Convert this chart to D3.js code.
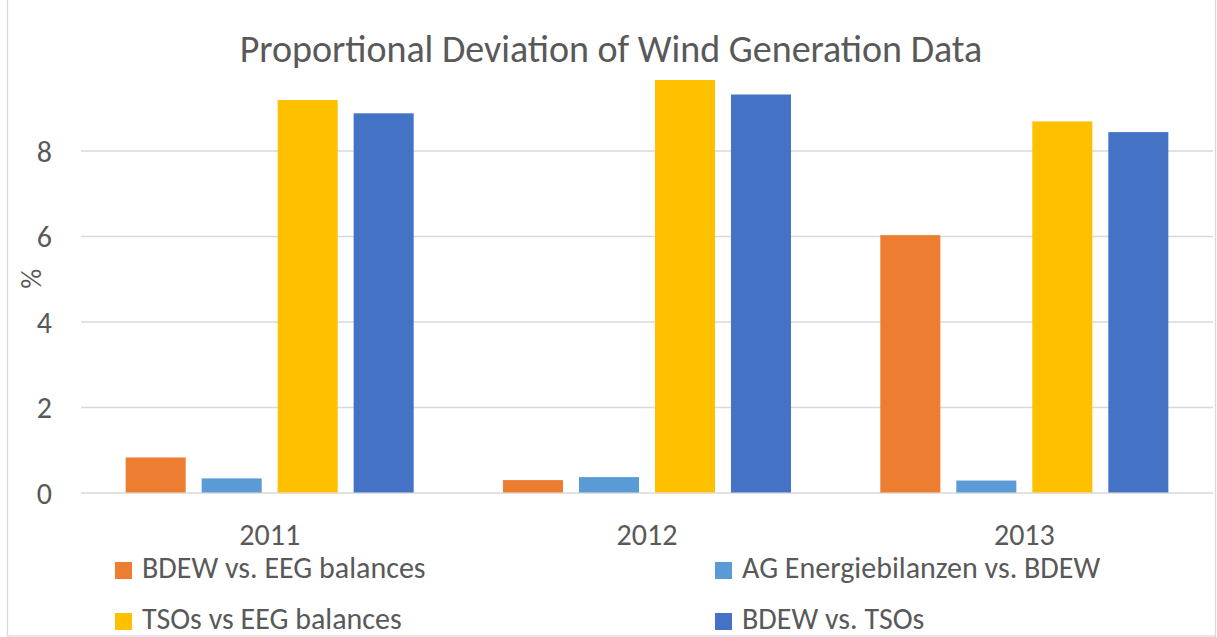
<!DOCTYPE html>
<html>
<head>
<meta charset="utf-8">
<script src="https://cdn.jsdelivr.net/npm/d3@7"></script>
<style>
  html, body { margin: 0; padding: 0; background: #fff; }
  svg { display: block; }
  text { font-family: Calibri, Carlito, Lato, "Open Sans", sans-serif; fill: #595959; }
  .grid line { stroke: #d9d9d9; stroke-width: 1.3; }
  .grid .domain { display: none; }
  .axis .domain, .axis line { display: none; }
</style>
</head>
<body>
<svg id="chart" width="1217" height="637"></svg>
<script>
// ── Data ──────────────────────────────────────────────────────────────────────
const years  = ["2011", "2012", "2013"];
const series = ["BDEW vs. EEG balances", "AG Energiebilanzen vs. BDEW",
                "TSOs vs EEG balances", "BDEW vs. TSOs"];
const colors = ["#ed7d31", "#5b9bd5", "#ffc000", "#4472c4"];
// one array per series, values per year (%)
const bdewVsEeg   = [0.82, 0.29, 6.02];
const agebVsBdew  = [0.33, 0.36, 0.28];
const tsosVsEeg   = [9.18, 9.65, 8.68];
const bdewVsTsos  = [8.87, 9.31, 8.43];
const yTicks = [0, 2, 4, 6, 8];

const values = [bdewVsEeg, agebVsBdew, tsosVsEeg, bdewVsTsos];
const rows = years.map((yr, i) => ({
  year: yr,
  bars: series.map((s, j) => ({ s, j, v: values[j][i] }))
}));

// ── Layout ────────────────────────────────────────────────────────────────────
const svg = d3.select("#chart");
const W = 1217, H = 637;
const margin = { top: 65, right: 4, bottom: 144.5, left: 81 };
const w = W - margin.left - margin.right;
const h = H - margin.top - margin.bottom;

// chart frame
svg.append("rect")
  .attr("x", 7.5).attr("y", -2)
  .attr("width", 1208).attr("height", 638)
  .attr("fill", "none").attr("stroke", "#d9d9d9").attr("stroke-width", 1.3);

const g = svg.append("g").attr("transform", `translate(${margin.left},${margin.top})`);

const x0 = d3.scaleBand().domain(years).range([0, w]).padding(0);
const x1 = d3.scaleBand().domain(series).range([0, x0.bandwidth()])
  .paddingInner(0.21).paddingOuter(0.5875);
const y = d3.scaleLinear().domain([0, 10]).range([h, 0]);

g.append("g").attr("class", "grid")
  .call(d3.axisLeft(y).tickValues(yTicks).tickSize(-w).tickFormat(""));

g.append("g").attr("class", "axis")
  .call(d3.axisLeft(y).tickValues(yTicks).tickSize(0).tickPadding(29))
  .selectAll("text").style("font-size", "30px").attr("dy", "0.36em");

g.append("g").attr("class", "axis").attr("transform", `translate(0,${h})`)
  .call(d3.axisBottom(x0).tickSize(0).tickPadding(52))
  .selectAll("text").style("font-size", "30px").attr("dy", "0");

// bars
g.selectAll("g.year")
  .data(rows)
  .join("g").attr("class", "year")
  .attr("transform", d => `translate(${x0(d.year)},0)`)
  .selectAll("rect")
  .data(d => d.bars)
  .join("rect")
  .attr("x", d => x1(d.s))
  .attr("width", x1.bandwidth())
  .attr("y", d => y(d.v))
  .attr("height", d => y(0) - y(d.v))
  .attr("fill", d => colors[d.j]);

// axis title
svg.append("text")
  .attr("transform", `translate(41,${margin.top + h / 2}) rotate(-90)`)
  .attr("text-anchor", "middle")
  .style("font-size", "28px")
  .text("%");

// chart title
svg.append("text")
  .attr("x", 611).attr("y", 62)
  .attr("text-anchor", "middle")
  .style("font-size", "38px")
  .text("Proportional Deviation of Wind Generation Data");

// legend
const legend = svg.append("g").attr("transform", "translate(115,562)");
const item = legend.selectAll("g.item")
  .data(series.map((s, j) => ({ s, j })))
  .join("g").attr("class", "item")
  .attr("transform", d => `translate(${(d.j % 2) * 600},${Math.floor(d.j / 2) * 51})`);
item.append("rect")
  .attr("width", 17).attr("height", 17)
  .attr("fill", d => colors[d.j]);
item.append("text")
  .attr("x", 27).attr("y", 16)
  .style("font-size", "30px")
  .text(d => d.s);
</script>
</body>
</html>
